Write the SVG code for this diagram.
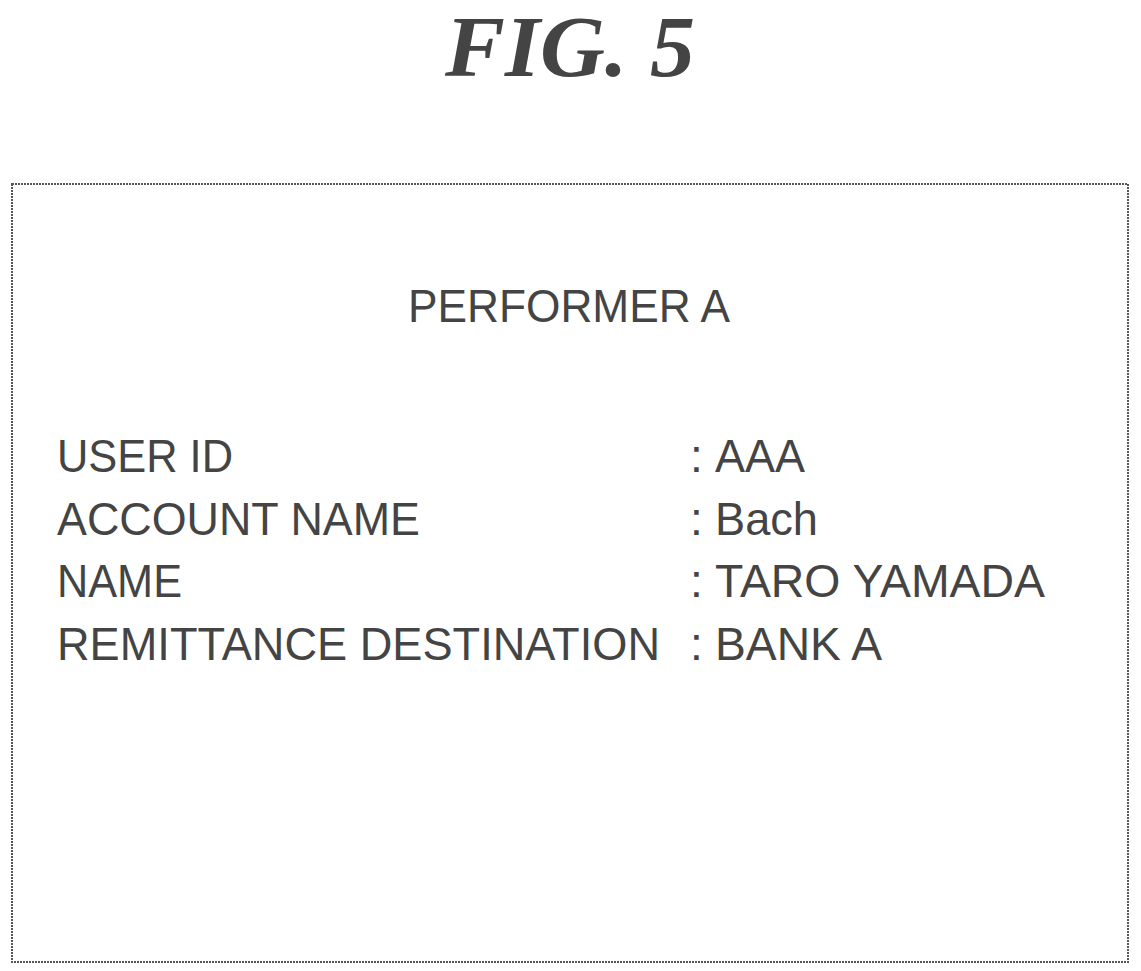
<svg xmlns="http://www.w3.org/2000/svg" width="1141" height="971" viewBox="0 0 1141 971">
<style>
.t{font-family:"Liberation Sans",Arial,sans-serif;font-size:46px;fill:#444}
.fig{font-family:"Liberation Serif","Times New Roman",serif;font-size:86px;font-weight:bold;font-style:italic;fill:#444}
</style>
<rect width="1141" height="971" fill="#fff"/>
<text class="fig" x="570" y="76" text-anchor="middle" textLength="250" lengthAdjust="spacingAndGlyphs">FIG. 5</text>
<g id="card">
<rect x="12" y="184" width="1116" height="778" fill="none" stroke="#555" stroke-width="2" stroke-dasharray="2,1"/>
<text class="t" x="408" y="322" textLength="322" lengthAdjust="spacingAndGlyphs">PERFORMER A</text>
<text class="t" x="57" y="472" textLength="176" lengthAdjust="spacingAndGlyphs">USER ID</text>
<text class="t" x="57" y="535" textLength="363" lengthAdjust="spacingAndGlyphs">ACCOUNT NAME</text>
<text class="t" x="57" y="597" textLength="125" lengthAdjust="spacingAndGlyphs">NAME</text>
<text class="t" x="57" y="660" textLength="603" lengthAdjust="spacingAndGlyphs">REMITTANCE DESTINATION</text>
<text class="t" x="690" y="472">:</text>
<text class="t" x="690" y="535">:</text>
<text class="t" x="690" y="597">:</text>
<text class="t" x="690" y="660">:</text>
<text class="t" x="715" y="472" textLength="90" lengthAdjust="spacingAndGlyphs">AAA</text>
<text class="t" x="715" y="535" textLength="103" lengthAdjust="spacingAndGlyphs">Bach</text>
<text class="t" x="715" y="597" textLength="330" lengthAdjust="spacingAndGlyphs">TARO YAMADA</text>
<text class="t" x="715" y="660" textLength="167" lengthAdjust="spacingAndGlyphs">BANK A</text>
</g>
</svg>
